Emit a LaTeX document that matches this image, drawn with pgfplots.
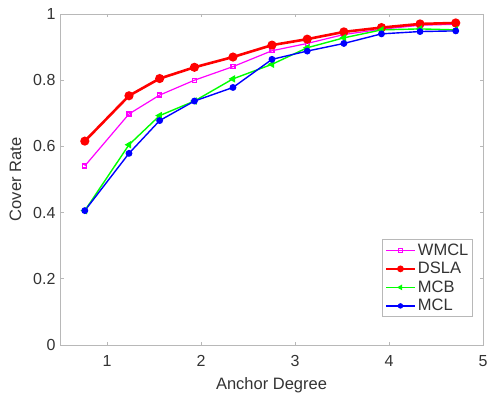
\documentclass[border=0pt]{standalone}
\usepackage{pgfplots}
\pgfplotsset{compat=1.18}
\usepackage{fontspec}
\setmainfont{Liberation Sans}
\definecolor{mag}{rgb}{1,0,1}
\definecolor{grn}{rgb}{0,1,0}
\definecolor{axgray}{rgb}{0.72,0.72,0.72}
\definecolor{txt}{rgb}{0.2,0.2,0.2}
\begin{document}
\begin{tikzpicture}
\begin{axis}[
  scale only axis, width=423pt, height=331pt,
  xmin=0.5, xmax=5, ymin=0, ymax=1,
  xtick={1,2,3,4,5}, ytick={0,0.2,0.4,0.6,0.8,1},
  yticklabels={0,0.2,0.4,0.6,0.8,1},
  tick align=inside, tick pos=both,
  major tick length=3.5pt,
  axis line style={axgray, line width=0.9pt},
  tick style={axgray, line width=0.8pt},
  every tick label/.append style={font=\fontsize{16}{18}\selectfont, text=txt},
  /pgf/number format/assume math mode=true,
  xticklabel style={yshift=-7pt},
  yticklabel style={xshift=-1pt},
  xlabel={Anchor Degree}, ylabel={Cover Rate},
  label style={font=\fontsize{16.5}{19}\selectfont, text=txt},
  xlabel style={yshift=-4pt}, ylabel style={yshift=5pt},
  legend style={at={(0.976,0.085)}, anchor=south east, font=\fontsize{16.5}{19}\selectfont,
    draw=axgray, line width=0.9pt, inner sep=2pt, row sep=1.5pt, text=txt},
  legend cell align=left,
  legend image code/.code={\draw[mark repeat=2,mark phase=2,#1,mark size=2pt] plot coordinates {(0cm,0cm)(0.5cm,0cm)(1.0cm,0cm)};},
]
\addplot[mag, line width=1.2pt, mark=square, mark size=2pt, mark options={fill=white}] coordinates {
(0.764,0.541)(1.234,0.698)(1.56,0.755)(1.93,0.800)(2.34,0.841)(2.755,0.889)(3.13,0.911)(3.52,0.938)(3.92,0.954)(4.33,0.966)(4.71,0.969)};
\addlegendentry{WMCL}
\addplot[red, line width=2.6pt, mark=*, mark size=3.2pt] coordinates {
(0.764,0.616)(1.234,0.753)(1.56,0.805)(1.93,0.839)(2.34,0.870)(2.755,0.906)(3.13,0.924)(3.52,0.946)(3.92,0.959)(4.33,0.970)(4.71,0.973)};
\addlegendentry{DSLA}
\addplot[grn, line width=1.4pt, mark=triangle*, mark size=3pt, mark options={rotate=90}] coordinates {
(0.764,0.406)(1.234,0.605)(1.56,0.693)(1.93,0.737)(2.34,0.804)(2.755,0.848)(3.13,0.898)(3.52,0.928)(3.92,0.952)(4.33,0.955)(4.71,0.952)};
\addlegendentry{MCB}
\addplot[blue, line width=1.4pt, mark=*, mark size=2.7pt] coordinates {
(0.764,0.406)(1.234,0.579)(1.56,0.678)(1.93,0.737)(2.34,0.778)(2.755,0.863)(3.13,0.888)(3.52,0.911)(3.92,0.940)(4.33,0.947)(4.71,0.949)};
\addlegendentry{MCL}
\end{axis}
\pgfresetboundingbox
\path ([xshift=-60pt,yshift=-51pt]current axis.south west) rectangle ([xshift=4pt,yshift=14pt]current axis.north east);
\end{tikzpicture}
\end{document}
